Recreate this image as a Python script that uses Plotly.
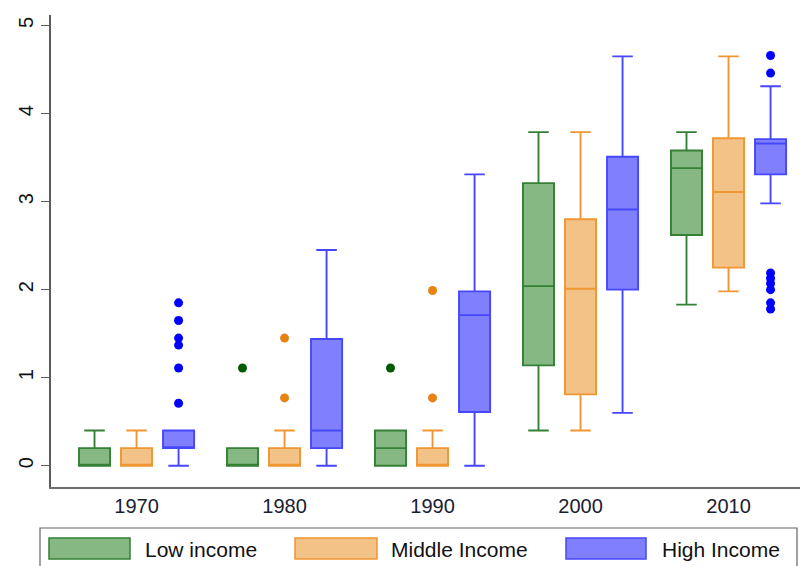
import plotly.graph_objects as go

groups = ['1970', '1980', '1990', '2000', '2010']

low_q1 = [0.0, 0.0, 0.0, 1.14, 2.62]
low_med = [0.0, 0.0, 0.2, 2.04, 3.38]
low_q3 = [0.2, 0.2, 0.4, 3.21, 3.58]
low_lo = [0.0, 0.0, 0.0, 0.40, 1.83]
low_hi = [0.4, 0.2, 0.4, 3.79, 3.79]
low_out = {1: [1.11], 2: [1.11]}

mid_q1 = [0.0, 0.0, 0.0, 0.81, 2.25]
mid_med = [0.0, 0.0, 0.0, 2.01, 3.11]
mid_q3 = [0.2, 0.2, 0.2, 2.80, 3.72]
mid_lo = [0.0, 0.0, 0.0, 0.40, 1.98]
mid_hi = [0.4, 0.4, 0.4, 3.79, 4.65]
mid_out = {1: [1.45, 0.77], 2: [1.99, 0.77]}

high_q1 = [0.2, 0.2, 0.61, 2.00, 3.31]
high_med = [0.2, 0.4, 1.71, 2.91, 3.66]
high_q3 = [0.4, 1.44, 1.98, 3.51, 3.71]
high_lo = [0.0, 0.0, 0.0, 0.60, 2.98]
high_hi = [0.4, 2.45, 3.31, 4.65, 4.31]
high_out = {0: [1.85, 1.65, 1.45, 1.37, 1.11, 0.71],
            4: [4.66, 4.46, 2.19, 2.13, 2.07, 2.00, 1.85, 1.78]}

series = [
    dict(name='Low income', q1=low_q1, med=low_med, q3=low_q3, lo=low_lo, hi=low_hi, out=low_out,
         fill='rgb(134,184,132)', line='rgb(52,128,52)', dot='rgb(0,90,0)', off=-0.284),
    dict(name='Middle Income', q1=mid_q1, med=mid_med, q3=mid_q3, lo=mid_lo, hi=mid_hi, out=mid_out,
         fill='rgb(243,194,134)', line='rgb(240,150,50)', dot='rgb(232,130,20)', off=0.0),
    dict(name='High Income', q1=high_q1, med=high_med, q3=high_q3, lo=high_lo, hi=high_hi, out=high_out,
         fill='rgb(128,128,255)', line='rgb(70,70,255)', dot='rgb(0,0,255)', off=0.284),
]

fig = go.Figure()
gidx = list(range(len(groups)))
for s in series:
    xs = [i + s['off'] for i in gidx]
    fig.add_trace(go.Box(
        x=xs, q1=s['q1'], median=s['med'], q3=s['q3'],
        lowerfence=s['lo'], upperfence=s['hi'],
        width=0.21, whiskerwidth=0.66,
        fillcolor=s['fill'], line=dict(color=s['line'], width=1.9),
        boxpoints=False, name=s['name'], showlegend=False, hoverinfo='skip'))
    ox, oy = [], []
    for i, vals in s['out'].items():
        for v in vals:
            ox.append(i + s['off'])
            oy.append(v)
    fig.add_trace(go.Scatter(x=ox, y=oy, mode='markers',
                             marker=dict(color=s['dot'], size=9),
                             showlegend=False, hoverinfo='skip'))

# manual legend (paper coordinates)
L, R, T, B = 51, 800, 15, 487
W, H = R - L, B - T
def px(x):
    return (x - L) / W
def py(y):
    return (B - y) / H

shapes = [dict(type='rect', xref='paper', yref='paper',
               x0=px(40), x1=px(797), y0=py(528), y1=py(568),
               line=dict(color='rgb(100,100,100)', width=1.2), fillcolor='white')]
annotations = []
sw = [(49, 130, 143), (295, 377, 389), (566, 646, 660)]
for s, (a, b, t) in zip(series, sw):
    shapes.append(dict(type='rect', xref='paper', yref='paper',
                       x0=px(a), x1=px(b), y0=py(538), y1=py(559),
                       line=dict(color=s['line'], width=1.5), fillcolor=s['fill']))
    annotations.append(dict(xref='paper', yref='paper', x=px(t), y=py(549),
                            text=s['name'], showarrow=False, xanchor='left', yanchor='middle',
                            font=dict(family='Liberation Sans', size=21, color='#111111')))

fig.update_layout(
    width=802, height=566,
    margin=dict(l=L, r=802 - R, t=T, b=566 - B, autoexpand=False),
    paper_bgcolor='white', plot_bgcolor='white',
    shapes=shapes, annotations=annotations,
    font=dict(family='Liberation Sans', size=20, color='#111111'),
    xaxis=dict(range=[-0.578, 4.483], tickvals=gidx, ticktext=groups,
               showgrid=False, zeroline=False, showline=True, automargin=False,
               linecolor='rgb(110,110,110)', linewidth=1.5, ticks='',
               tickfont=dict(size=20, color='#1a2030')),
    yaxis=dict(range=[-0.242, 5.12], tickvals=[0, 1, 2, 3, 4, 5],
               showgrid=False, zeroline=False, showline=True, automargin=False,
               linecolor='rgb(90,90,90)', linewidth=1.5,
               ticks='outside', ticklen=8, tickwidth=1.3, tickcolor='rgb(90,90,90)',
               tickangle=-90, tickfont=dict(size=20, color='#111111')),
)

fig.write_html('out.html', config={'displayModeBar': False},
               post_script="document.body.style.margin='0';document.body.style.overflow='hidden';")
